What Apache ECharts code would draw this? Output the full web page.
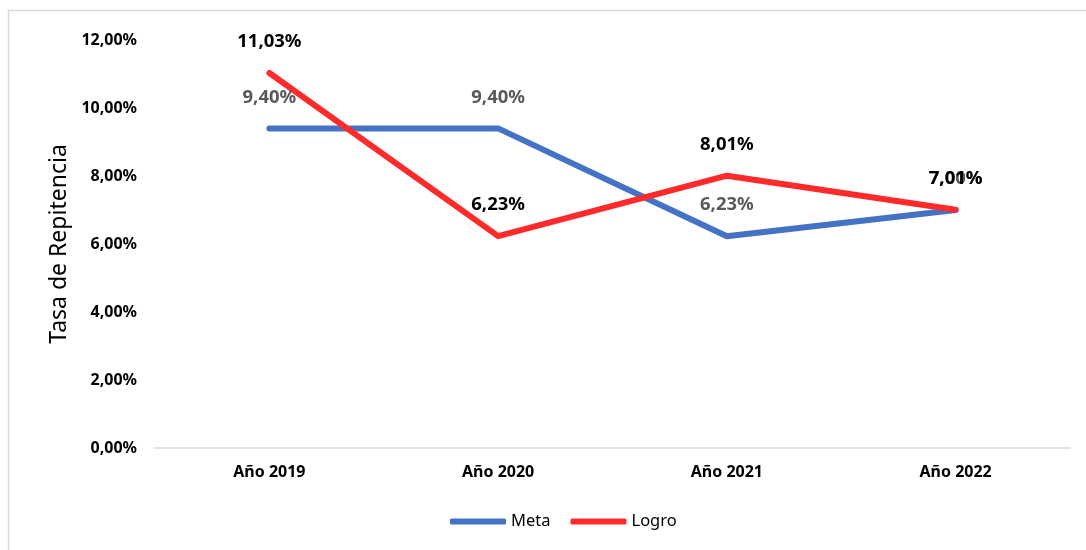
<!DOCTYPE html>
<html><head><meta charset="utf-8">
<script src="https://cdn.jsdelivr.net/npm/echarts@6/dist/echarts.min.js"></script>
<style>html,body{margin:0;padding:0;background:#fff}#c{width:1086px;height:550px}</style>
</head><body><div id="c"></div>
<script>
const categories = ['Año 2019', 'Año 2020', 'Año 2021', 'Año 2022'];
const meta = [9.40, 9.40, 6.23, 7.00];
const logro = [11.03, 6.23, 8.01, 7.01];
const yTicks = [0, 2, 4, 6, 8, 10, 12];

const fmt = v => v.toFixed(2).replace('.', ',') + '%';
const font = '"Noto Sans", "Open Sans", sans-serif';
const chart = echarts.init(document.getElementById('c'));
chart.setOption({
  animation: false,
  backgroundColor: '#fff',
  graphic: [{type: 'rect', shape: {x: 8.5, y: 10.5, width: 1200, height: 700}, style: {fill: 'none', stroke: '#d9d9d9', lineWidth: 1.5}, silent: true}],
  grid: {left: 155, right: 16, top: 40, bottom: 102},
  legend: {
    bottom: 15, left: 445, itemWidth: 56, itemHeight: 6, itemGap: 20,
    icon: 'roundRect',
    textStyle: {fontFamily: font, fontSize: 16.5, color: '#000'},
    data: ['Meta', 'Logro']
  },
  xAxis: {
    type: 'category', data: categories, boundaryGap: true,
    axisLine: {lineStyle: {color: '#d9d9d9', width: 1.5}},
    axisTick: {show: false},
    axisLabel: {fontFamily: font, fontSize: 16, fontWeight: 'bold', color: '#000', margin: 16}
  },
  yAxis: {
    type: 'value', min: yTicks[0], max: yTicks[yTicks.length - 1], interval: 2,
    name: 'Tasa de Repitencia', nameLocation: 'middle', nameGap: 80,
    nameTextStyle: {fontFamily: font, fontSize: 23, color: '#000'},
    axisLine: {show: false}, axisTick: {show: false}, splitLine: {show: false},
    axisLabel: {fontFamily: font, fontSize: 16, fontWeight: 'bold', color: '#000', margin: 18, formatter: v => fmt(v)}
  },
  series: [
    {
      name: 'Meta', type: 'line', data: meta, symbol: 'circle', symbolSize: 1, showSymbol: true,
      lineStyle: {width: 6, color: '#4472C4', cap: 'round', join: 'round'},
      itemStyle: {color: '#4472C4'},
      labelLayout: {hideOverlap: false},
      label: {show: true, position: 'top', distance: 21, fontFamily: font, fontSize: 18.5, fontWeight: 'bold', color: '#595959', formatter: p => fmt(p.value)}
    },
    {
      name: 'Logro', type: 'line', data: logro, symbol: 'circle', symbolSize: 1, showSymbol: true,
      lineStyle: {width: 6, color: '#FF2B2B', cap: 'round', join: 'round'},
      itemStyle: {color: '#FF2B2B'},
      labelLayout: {hideOverlap: false},
      label: {show: true, position: 'top', distance: 21, fontFamily: font, fontSize: 18.5, fontWeight: 'bold', color: '#000', formatter: p => fmt(p.value)}
    }
  ]
});
</script></body></html>
